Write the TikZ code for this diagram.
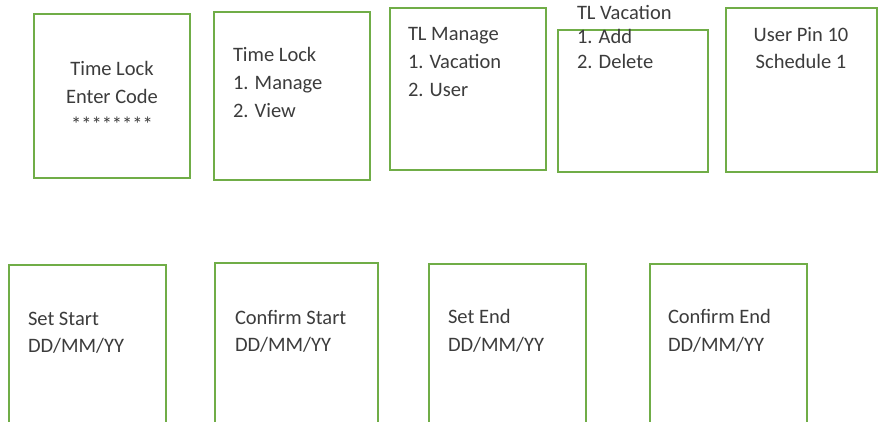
\documentclass[tikz,border=0pt]{standalone}
\usepackage{fontspec}
\setmainfont{Carlito}
\definecolor{boxgreen}{RGB}{112,173,71}
\definecolor{txt}{RGB}{60,60,60}
\begin{document}
\begin{tikzpicture}[x=1pt,y=-1pt,
  scr/.style={draw=boxgreen,line width=2pt,fill=white,inner sep=0pt,outer sep=0pt,anchor=north west},
  lbl/.style={inner sep=0pt,outer sep=0pt,text=txt,font=\fontsize{20.5}{28}\selectfont},
  lw/.style={lbl,anchor=base west},
  lc/.style={lbl,anchor=base}]
\useasboundingbox (0,0) rectangle (878,421);
\clip (0,0) rectangle (878,421);
% top row
\node[scr,minimum width=156pt,minimum height=164pt] (b1) at (34,14) {};
\node[scr,minimum width=156pt,minimum height=168pt] (b2) at (214,12) {};
\node[scr,minimum width=156pt,minimum height=162pt] (b3) at (390,8) {};
\node[scr,minimum width=150pt,minimum height=142pt] (b4) at (558,30) {};
\node[scr,minimum width=151pt,minimum height=164pt] (b5) at (726,8) {};
% bottom row
\node[scr,minimum width=157pt,minimum height=180pt] (b6) at (9,265) {};
\node[scr,minimum width=163pt,minimum height=180pt] (b7) at (215,263) {};
\node[scr,minimum width=157pt,minimum height=180pt] (b8) at (429,264) {};
\node[scr,minimum width=157pt,minimum height=180pt] (b9) at (650,264) {};
% texts
\node[lc] (t1a) at (112,75) {Time Lock};
\node[lc] (t1b) at (112,103) {Enter Code};
\node[lc] (t1c) at (112,131) {********};
\node[lw] (t2a) at (233,61) {Time Lock};
\node[lw] (t2b) at (233,89) {1. Manage};
\node[lw] (t2c) at (233,117) {2. View};
\node[lw] (t3a) at (408,40) {TL Manage};
\node[lw] (t3b) at (408,68) {1. Vacation};
\node[lw] (t3c) at (408,96) {2. User};
\node[lw] (t4a) at (577,19) {TL Vacation};
\node[lw] (t4b) at (577,43) {1. Add};
\node[lw] (t4c) at (577,68) {2. Delete};
\node[lc] (t5a) at (801,41) {User Pin 10};
\node[lc] (t5b) at (801,68) {Schedule 1};
\node[lw] (t6a) at (28,325) {Set Start};
\node[lw] (t6b) at (28,352) {DD/MM/YY};
\node[lw] (t7a) at (235,324) {Confirm Start};
\node[lw] (t7b) at (235,351) {DD/MM/YY};
\node[lw] (t8a) at (448,323) {Set End};
\node[lw] (t8b) at (448,351) {DD/MM/YY};
\node[lw] (t9a) at (668,323) {Confirm End};
\node[lw] (t9b) at (668,351) {DD/MM/YY};
\end{tikzpicture}
\end{document}
